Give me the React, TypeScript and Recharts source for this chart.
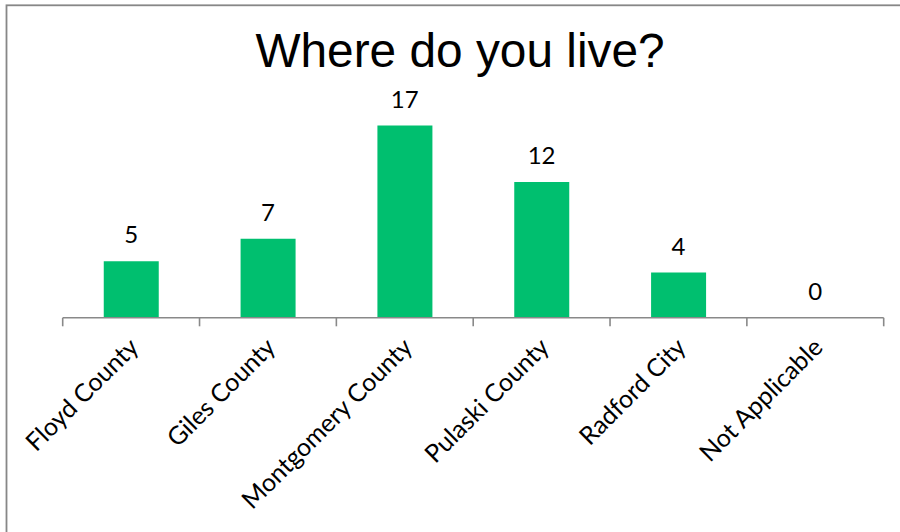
import React from 'react';
import { ComposedChart, Bar, Line, XAxis, YAxis, LabelList } from 'recharts';

const categories = ['Floyd County', 'Giles County', 'Montgomery County', 'Pulaski County', 'Radford City', 'Not Applicable'];
const counts = [5, 7, 17, 12, 4, 0];
const titleText = 'Where do you live?';

const data = categories.map((name, i) => ({ name, value: counts[i] }));

const AXIS_COLOR = '#898989';
const BAR_COLOR = '#00BF6F';
const LABEL_FONT = 'Lato, "Open Sans", sans-serif';

const CategoryTick = (props: any) => {
  const { x, y, payload, index } = props;
  const half = payload && typeof payload.offset === 'number' && payload.offset > 0 ? payload.offset : 68.4;
  const ax = x + 9;
  const ay = y + 31;
  const isLast = index === categories.length - 1;
  return (
    <g>
      <line x1={x - half} x2={x - half} y1={y} y2={y + 8.5} stroke={AXIS_COLOR} strokeWidth={1.6} />
      {isLast && <line x1={x + half} x2={x + half} y1={y} y2={y + 8.5} stroke={AXIS_COLOR} strokeWidth={1.6} />}
      <text
        x={ax}
        y={ay}
        textAnchor="end"
        transform={`rotate(-45 ${ax} ${ay})`}
        fontSize={25}
        fontFamily={LABEL_FONT}
        fill="#000"
      >
        {payload.value}
      </text>
    </g>
  );
};

export default function App() {
  return (
    <div style={{ position: 'absolute', left: 0, top: 0, width: 900, height: 532, overflow: 'hidden', background: '#fff' }}>
      <svg width={900} height={532} style={{ position: 'absolute', left: 0, top: 0 }}>
        <rect x={6.5} y={5.3} width={1000} height={1000} fill="none" stroke="#878787" strokeWidth={1.8} />
        <text
          x={460}
          y={66.7}
          textAnchor="middle"
          fontSize={47.8}
          fontFamily='"Liberation Sans", Arial, sans-serif'
          fill="#000"
        >
          {titleText}
        </text>
      </svg>
      <div style={{ position: 'absolute', left: 0, top: 0 }}>
        <ComposedChart
          width={900}
          height={532}
          data={data}
          margin={{ top: 91.6, right: 16.3, bottom: 0, left: 62.7 }}
          barCategoryGap="30%"
        >
          <XAxis
            dataKey="name"
            interval={0}
            height={214.2}
            tickSize={0}
            tickMargin={0}
            tickLine={false}
            axisLine={{ stroke: AXIS_COLOR, strokeWidth: 1.6 }}
            tick={<CategoryTick />}
          />
          <YAxis hide domain={[0, 20]} width={0} />
          <Bar dataKey="value" fill={BAR_COLOR} isAnimationActive={false} />
          <Line
            dataKey="value"
            stroke="none"
            dot={false}
            activeDot={false}
            legendType="none"
            isAnimationActive={false}
          >
            <LabelList dataKey="value" position="top" offset={18} fill="#000" fontSize={24} fontFamily={LABEL_FONT} />
          </Line>
        </ComposedChart>
      </div>
    </div>
  );
}
